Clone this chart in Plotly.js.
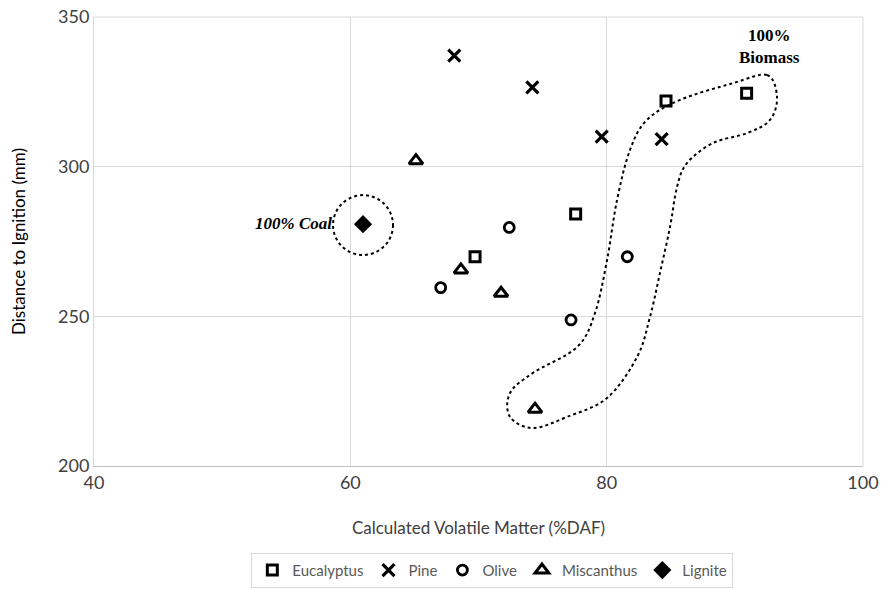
<!DOCTYPE html>
<html>
<head>
<meta charset="utf-8">
<script src="https://cdn.plot.ly/plotly-3.0.1.min.js"></script>
<style>html,body{margin:0;padding:0;background:#fff;}#chart{width:882px;height:589px;}</style>
</head>
<body>
<div id="chart"></div>
<script>
// Data
const eucalyptusX = [69.73, 77.58, 84.63, 90.92];
const eucalyptusY = [269.9, 284.2, 321.9, 324.5];
const pineX = [68.11, 74.20, 79.61, 84.29];
const pineY = [337.1, 326.5, 310.0, 309.2];
const oliveX = [67.05, 72.40, 77.22, 81.61];
const oliveY = [259.6, 279.7, 248.8, 269.9];
const miscanthusX = [65.12, 68.63, 71.76, 74.41];
const miscanthusY = [302.0, 265.5, 257.7, 219.0];
const ligniteX = [60.99];
const ligniteY = [280.8];
const xTicks = [40, 60, 80, 100];
const yTicks = [200, 250, 300, 350];

// Outline around the biomass-rich group (annotation, data coordinates)
const outlineX = [92.51, 93.29, 92.74, 90.95, 88.30, 86.27, 85.49, 84.94, 84.16, 83.38, 82.37, 80.03, 76.90, 74.25, 72.46, 72.46, 74.25, 77.68, 79.09, 80.03, 80.81, 81.82, 83.14, 85.72, 89.86];
const outlineY = [330.6, 323.3, 315.6, 311.2, 307.9, 301.2, 293.2, 279.8, 264.5, 249.8, 236.4, 222.7, 216.4, 212.7, 216.4, 224.4, 231.1, 239.7, 251.1, 268.8, 288.9, 305.6, 315.6, 322.3, 327.9];

function closedSpline(xs, ys) {
  const n = xs.length;
  let d = 'M ' + xs[0] + ',' + ys[0];
  for (let i = 0; i < n; i++) {
    const p0 = (i - 1 + n) % n, p1 = i, p2 = (i + 1) % n, p3 = (i + 2) % n;
    const c1x = xs[p1] + (xs[p2] - xs[p0]) / 6, c1y = ys[p1] + (ys[p2] - ys[p0]) / 6;
    const c2x = xs[p2] - (xs[p3] - xs[p1]) / 6, c2y = ys[p2] - (ys[p3] - ys[p1]) / 6;
    d += ' C ' + c1x + ',' + c1y + ' ' + c2x + ',' + c2y + ' ' + xs[p2] + ',' + ys[p2];
  }
  return d + ' Z';
}

const mk = (sym, size, lw) => ({symbol: sym, size: size, color: '#000', line: {color: '#000', width: lw}});
const traces = [
  {x: eucalyptusX, y: eucalyptusY, name: 'Eucalyptus', mode: 'markers', type: 'scatter', marker: mk('square-open', 10, 3)},
  {x: pineX, y: pineY, name: 'Pine', mode: 'markers', type: 'scatter', marker: mk('x-thin-open', 12, 3.2)},
  {x: oliveX, y: oliveY, name: 'Olive', mode: 'markers', type: 'scatter', marker: mk('circle-open', 10, 2.8)},
  {x: miscanthusX, y: miscanthusY, name: 'Miscanthus', mode: 'markers', type: 'scatter', marker: mk('triangle-up-open', 12, 3)},
  {x: ligniteX, y: ligniteY, name: 'Lignite', mode: 'markers', type: 'scatter', marker: mk('diamond', 14, 0)}
];

const layout = {
  width: 882, height: 589,
  margin: {l: 94, r: 19, t: 17, b: 123, autoexpand: false},
  paper_bgcolor: '#fff', plot_bgcolor: '#fff',
  font: {family: 'Lato, "Open Sans", sans-serif', color: '#404040', size: 16},
  showlegend: true,
  legend: {
    orientation: 'h', x: 0.518, xanchor: 'center', yref: 'container', y: 0.002, yanchor: 'bottom',
    bordercolor: '#d9d9d9', borderwidth: 1, bgcolor: '#fff',
    font: {family: 'Lato, "Open Sans", sans-serif', size: 15, color: '#595959'},
    itemwidth: 20, tracegroupgap: 0
  },
  xaxis: {
    range: [40, 100], tickvals: xTicks, ticktext: xTicks.map(String), automargin: false,
    showgrid: true, gridcolor: '#d9d9d9', gridwidth: 1,
    showline: true, linecolor: '#bfbfbf', linewidth: 1, mirror: false,
    zeroline: false, ticks: '', ticklen: 0,
    tickfont: {size: 18, color: '#404040'},
    title: {text: 'Calculated Volatile Matter (%DAF)', font: {size: 17, color: '#404040'}, standoff: 30}
  },
  yaxis: {
    range: [200, 350], tickvals: yTicks, ticktext: yTicks.map(String), automargin: false,
    showgrid: true, gridcolor: '#d9d9d9', gridwidth: 1,
    showline: true, linecolor: '#d9d9d9', linewidth: 1,
    zeroline: false, ticks: '',
    tickfont: {size: 18, color: '#404040'},
    title: {text: 'Distance to Ignition (mm)', font: {size: 17, color: '#000'}, standoff: 28}
  },
  shapes: [
    {type: 'circle', xref: 'x', yref: 'y', x0: 58.65, x1: 63.33, y0: 270.5, y1: 290.5,
     line: {color: '#000', width: 2, dash: 'dot'}},
    {type: 'path', xref: 'x', yref: 'y', path: closedSpline(outlineX, outlineY),
     line: {color: '#000', width: 2, dash: 'dot'}},
    {type: 'line', xref: 'paper', yref: 'paper', x0: 1, x1: 1, y0: 0, y1: 1, line: {color: '#d9d9d9', width: 1}},
    {type: 'line', xref: 'paper', yref: 'paper', x0: 0, x1: 1, y0: 1, y1: 1, line: {color: '#d9d9d9', width: 1}}
  ],
  annotations: [
    {text: '<b><i>100% Coal</i></b>', xref: 'x', yref: 'y', x: 58.75, y: 281, xanchor: 'right', yanchor: 'middle',
     showarrow: false, font: {family: '"Liberation Serif", "DejaVu Serif", serif', size: 17, color: '#000'}},
    {text: '<b>100%<br>Biomass</b>', xref: 'x', yref: 'y', x: 92.7, y: 340, xanchor: 'center', yanchor: 'middle',
     showarrow: false, font: {family: '"Liberation Serif", "DejaVu Serif", serif', size: 17, color: '#000'}}
  ]
};

Plotly.newPlot('chart', traces, layout, {displayModeBar: false, staticPlot: true});
</script>
</body>
</html>
